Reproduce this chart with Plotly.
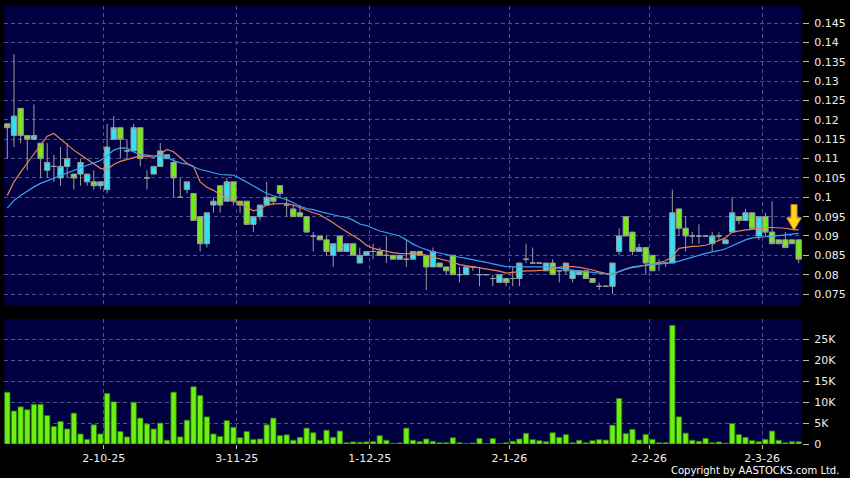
import plotly.graph_objects as go

# ---------------- data ----------------
open_ = [0.119, 0.116, 0.123, 0.116, 0.115, 0.114, 0.107, 0.108, 0.105, 0.108,
         0.106, 0.106, 0.104, 0.104, 0.103, 0.102, 0.115, 0.118, 0.112, 0.112,
         0.118, 0.105, 0.106, 0.108, 0.110, 0.109, 0.100, 0.102, 0.101, 0.095,
         0.088, 0.098, 0.103, 0.099, 0.104, 0.099, 0.099, 0.093, 0.095, 0.098,
         0.100, 0.103, 0.098, 0.097, 0.096, 0.095, 0.090, 0.090, 0.089, 0.085,
         0.090, 0.086, 0.088, 0.083, 0.085, 0.086, 0.086, 0.085, 0.085, 0.084,
         0.084, 0.084, 0.086, 0.085, 0.082, 0.083, 0.082, 0.085, 0.080, 0.080,
         0.082, 0.080, 0.080, 0.079, 0.078, 0.079, 0.079, 0.079, 0.084, 0.083,
         0.083, 0.081, 0.083, 0.081, 0.081, 0.079, 0.080, 0.081, 0.079, 0.077,
         0.077, 0.077, 0.086, 0.095, 0.091, 0.086, 0.087, 0.085, 0.083, 0.083,
         0.083, 0.097, 0.092, 0.090, 0.090, 0.090, 0.088, 0.090, 0.088, 0.091,
         0.095, 0.094, 0.096, 0.090, 0.095, 0.091, 0.089, 0.089, 0.089, 0.089]
high = [0.119, 0.137, 0.123, 0.116, 0.124, 0.114, 0.114, 0.111, 0.113, 0.114,
        0.106, 0.110, 0.106, 0.107, 0.104, 0.119, 0.121, 0.118, 0.115, 0.119,
        0.118, 0.107, 0.108, 0.114, 0.111, 0.110, 0.105, 0.104, 0.101, 0.095,
        0.096, 0.100, 0.103, 0.105, 0.104, 0.099, 0.099, 0.095, 0.098, 0.104,
        0.100, 0.103, 0.100, 0.098, 0.098, 0.095, 0.091, 0.090, 0.090, 0.088,
        0.090, 0.088, 0.088, 0.087, 0.086, 0.088, 0.087, 0.090, 0.085, 0.085,
        0.089, 0.086, 0.086, 0.085, 0.087, 0.083, 0.082, 0.085, 0.082, 0.082,
        0.082, 0.082, 0.080, 0.080, 0.080, 0.079, 0.082, 0.083, 0.088, 0.087,
        0.083, 0.083, 0.084, 0.081, 0.083, 0.081, 0.081, 0.081, 0.079, 0.078,
        0.077, 0.083, 0.092, 0.095, 0.091, 0.088, 0.087, 0.085, 0.084, 0.083,
        0.102, 0.097, 0.095, 0.091, 0.093, 0.090, 0.091, 0.091, 0.089, 0.100,
        0.095, 0.097, 0.096, 0.095, 0.096, 0.099, 0.089, 0.091, 0.089, 0.089]
low = [0.110, 0.113, 0.114, 0.107, 0.115, 0.105, 0.105, 0.104, 0.103, 0.105,
       0.102, 0.103, 0.103, 0.102, 0.102, 0.101, 0.115, 0.110, 0.110, 0.112,
       0.108, 0.102, 0.106, 0.108, 0.110, 0.100, 0.100, 0.101, 0.094, 0.086,
       0.087, 0.096, 0.096, 0.099, 0.098, 0.096, 0.093, 0.091, 0.094, 0.098,
       0.098, 0.100, 0.095, 0.095, 0.095, 0.091, 0.086, 0.089, 0.085, 0.082,
       0.086, 0.086, 0.085, 0.083, 0.085, 0.084, 0.085, 0.083, 0.084, 0.084,
       0.082, 0.084, 0.085, 0.076, 0.082, 0.082, 0.080, 0.080, 0.078, 0.080,
       0.081, 0.077, 0.080, 0.077, 0.078, 0.077, 0.077, 0.077, 0.083, 0.083,
       0.083, 0.081, 0.080, 0.078, 0.080, 0.078, 0.080, 0.079, 0.078, 0.076,
       0.077, 0.075, 0.085, 0.090, 0.085, 0.086, 0.080, 0.081, 0.081, 0.082,
       0.083, 0.090, 0.086, 0.088, 0.088, 0.090, 0.086, 0.089, 0.088, 0.091,
       0.093, 0.094, 0.092, 0.089, 0.090, 0.088, 0.088, 0.087, 0.088, 0.083]
close = [0.118, 0.121, 0.116, 0.115, 0.116, 0.110, 0.109, 0.108, 0.108, 0.110,
         0.105, 0.109, 0.106, 0.103, 0.104, 0.113, 0.118, 0.115, 0.112, 0.118,
         0.110, 0.105, 0.108, 0.112, 0.111, 0.105, 0.100, 0.104, 0.094, 0.088,
         0.096, 0.099, 0.098, 0.104, 0.099, 0.098, 0.093, 0.095, 0.098, 0.100,
         0.099, 0.101, 0.098, 0.095, 0.095, 0.091, 0.090, 0.089, 0.086, 0.088,
         0.086, 0.088, 0.085, 0.085, 0.086, 0.086, 0.085, 0.085, 0.084, 0.085,
         0.084, 0.086, 0.085, 0.082, 0.086, 0.082, 0.081, 0.080, 0.080, 0.082,
         0.082, 0.080, 0.080, 0.079, 0.080, 0.078, 0.079, 0.083, 0.084, 0.083,
         0.083, 0.083, 0.080, 0.081, 0.083, 0.081, 0.081, 0.079, 0.078, 0.077,
         0.077, 0.083, 0.090, 0.090, 0.086, 0.087, 0.083, 0.081, 0.083, 0.083,
         0.096, 0.092, 0.090, 0.090, 0.090, 0.090, 0.090, 0.090, 0.089, 0.096,
         0.094, 0.096, 0.092, 0.095, 0.091, 0.088, 0.088, 0.087, 0.088, 0.084]
volume = [12400, 7900, 8900, 8200, 9500, 9500, 6800, 4200, 5400, 3600,
          7400, 2400, 1100, 4600, 2400, 12100, 10100, 3000, 1700, 10000,
          6200, 4800, 3600, 5000, 900, 12400, 1700, 5700, 13700, 11600,
          6500, 2400, 1800, 5600, 4000, 1500, 3000, 1100, 1200, 4600,
          6200, 2000, 2200, 900, 1600, 3800, 2700, 900, 3300, 1600,
          3100, 300, 500, 400, 500, 550, 2000, 900, 150, 250,
          3800, 900, 550, 1200, 650, 300, 300, 1500, 300, 100,
          250, 1300, 100, 1300, 100, 300, 650, 1200, 2550, 1050,
          800, 550, 2700, 1600, 2250, 300, 900, 300, 800, 1050,
          950, 4500, 10900, 2500, 3500, 950, 2300, 1100, 300, 300,
          28400, 6500, 2600, 900, 650, 1350, 300, 500, 200, 4900,
          2250, 1600, 800, 550, 1100, 3100, 900, 300, 550, 550]
ma_short = [0.1005, 0.1040, 0.1065, 0.1090, 0.1112, 0.1135, 0.1158, 0.1165, 0.1150, 0.1135,
            0.1122, 0.1110, 0.1098, 0.1085, 0.1075, 0.1072, 0.1085, 0.1093, 0.1098, 0.1103,
            0.1107, 0.1106, 0.1103, 0.1112, 0.1124, 0.1118, 0.1104, 0.1088, 0.1080, 0.1040,
            0.1026, 0.1018, 0.1007, 0.0997, 0.0990, 0.0984, 0.0975, 0.0965, 0.0970, 0.0980,
            0.0983, 0.0983, 0.0984, 0.0980, 0.0973, 0.0966, 0.0960, 0.0955, 0.0945, 0.0934,
            0.0922, 0.0912, 0.0901, 0.0890, 0.0876, 0.0868, 0.0864, 0.0860, 0.0857, 0.0855,
            0.0854, 0.0853, 0.0853, 0.0850, 0.0846, 0.0842, 0.0838, 0.0832, 0.0826, 0.0823,
            0.0820, 0.0817, 0.0815, 0.0812, 0.0809, 0.0804, 0.0806, 0.0809, 0.0810, 0.0810,
            0.0811, 0.0812, 0.0815, 0.0819, 0.0821, 0.0821, 0.0819, 0.0816, 0.0812, 0.0807,
            0.0803, 0.0799, 0.0808, 0.0815, 0.0819, 0.0821, 0.0825, 0.0828, 0.0831, 0.0836,
            0.0847, 0.0868, 0.0871, 0.0873, 0.0874, 0.0876, 0.0882, 0.0888, 0.0895, 0.0910,
            0.0913, 0.0916, 0.0917, 0.0919, 0.0922, 0.0922, 0.0921, 0.0920, 0.0917, 0.0915]
ma_long = [0.0972, 0.0992, 0.1005, 0.1017, 0.1027, 0.1036, 0.1043, 0.1049, 0.1055, 0.1062,
           0.1069, 0.1076, 0.1083, 0.1089, 0.1095, 0.1107, 0.1122, 0.1128, 0.1127, 0.1117,
           0.1111, 0.1109, 0.1107, 0.1107, 0.1104, 0.1095, 0.1089, 0.1086, 0.1078, 0.1072,
           0.1068, 0.1063, 0.1059, 0.1058, 0.1057, 0.1049, 0.1039, 0.1030, 0.1019, 0.1010,
           0.1004, 0.0999, 0.0994, 0.0986, 0.0977, 0.0971, 0.0968, 0.0963, 0.0958, 0.0955,
           0.0951, 0.0948, 0.0941, 0.0931, 0.0927, 0.0919, 0.0913, 0.0909, 0.0905, 0.0900,
           0.0890, 0.0879, 0.0871, 0.0865, 0.0859, 0.0856, 0.0852, 0.0848, 0.0845, 0.0842,
           0.0839, 0.0836, 0.0832, 0.0828, 0.0824, 0.0821, 0.0820, 0.0820, 0.0820, 0.0820,
           0.0821, 0.0821, 0.0820, 0.0817, 0.0814, 0.0811, 0.0809, 0.0808, 0.0806, 0.0804,
           0.0802, 0.0802, 0.0808, 0.0815, 0.0820, 0.0822, 0.0824, 0.0826, 0.0827, 0.0829,
           0.0831, 0.0835, 0.0840, 0.0846, 0.0851, 0.0855, 0.0859, 0.0862, 0.0867, 0.0875,
           0.0881, 0.0890, 0.0895, 0.0897, 0.0898, 0.0899, 0.0901, 0.0903, 0.0905, 0.0907]
tick_bar_index = [14, 34, 54, 75, 96, 113]
tick_labels = ["2-10-25", "3-11-25", "1-12-25", "2-1-26", "2-2-26", "2-3-26"]
price_ticks = [0.075, 0.08, 0.085, 0.09, 0.095, 0.1, 0.105, 0.11, 0.115,
               0.12, 0.125, 0.13, 0.135, 0.14, 0.145]
volume_ticks = [0, 5000, 10000, 15000, 20000, 25000]
volume_tick_labels = ["0", "5K", "10K", "15K", "20K", "25K"]

# ---------------- figure ----------------
n = len(close)
xs = list(range(n))
grid_pos = [i + 0.5 for i in tick_bar_index]

FONT = "DejaVu Sans"
GRID = "#4e4e8a"
WICK = "#9c9c9c"

fig = go.Figure()
fig.add_trace(go.Candlestick(
    x=xs, open=open_, high=high, low=low, close=close,
    xaxis="x", yaxis="y",
    increasing=dict(fillcolor="#2fe3f2", line=dict(color=WICK, width=1)),
    decreasing=dict(fillcolor="#74ec14", line=dict(color=WICK, width=1)),
    whiskerwidth=0, showlegend=False, hoverinfo="skip"))
fig.add_trace(go.Scatter(x=xs, y=ma_short, mode="lines", xaxis="x", yaxis="y",
                         line=dict(color="#e8834c", width=1.2), showlegend=False,
                         hoverinfo="skip"))
fig.add_trace(go.Scatter(x=xs, y=ma_long, mode="lines", xaxis="x", yaxis="y",
                         line=dict(color="#3aa2ea", width=1.2), showlegend=False,
                         hoverinfo="skip"))
fig.add_trace(go.Bar(x=xs, y=volume, xaxis="x2", yaxis="y2",
                     marker=dict(color="#6cf014", line=dict(color="#2f7a08", width=0.8)),
                     showlegend=False, hoverinfo="skip"))

# down arrow marker above the last bar, pointing at the short MA end
xc = xs[-1] - 0.7
yt = ma_short[-1]
hh, hs, sw, hw = 0.0066, 0.0032, 0.45, 1.1
arrow_path = (f"M {xc - sw},{yt + hh} L {xc + sw},{yt + hh} L {xc + sw},{yt + hs} "
              f"L {xc + hw},{yt + hs} L {xc},{yt} L {xc - hw},{yt + hs} "
              f"L {xc - sw},{yt + hs} Z")
fig.add_shape(type="path", path=arrow_path, xref="x", yref="y",
              fillcolor="#ffd21e", line=dict(color="#d98c00", width=1))

axis_font = dict(family=FONT, size=11, color="#eeeeee")
common_x = dict(range=[-0.5, n - 0.5], tickmode="array", tickvals=grid_pos,
                showgrid=True, gridcolor=GRID, griddash="4px,3px", gridwidth=1,
                zeroline=False, showline=False, fixedrange=True)

fig.update_layout(
    width=850, height=478,
    paper_bgcolor="#000000", plot_bgcolor="#000040",
    margin=dict(l=4, r=43, t=6, b=34),
    boxgap=0.2, boxgroupgap=0,
    bargap=0.2,
    xaxis=dict(domain=[0, 1], anchor="y", showticklabels=False, ticks="",
               rangeslider=dict(visible=False), **common_x),
    yaxis=dict(domain=[0.3151, 1], anchor="x", side="right",
               range=[0.0719, 0.14947], tickmode="array", tickvals=price_ticks,
               ticktext=[f"{v:g}" for v in price_ticks],
               ticks="outside", ticklen=6, tickcolor="#bbbbbb",
               tickfont=axis_font, ticklabelstandoff=3,
               showgrid=True, gridcolor=GRID, griddash="4px,3px", gridwidth=1,
               zeroline=False, showline=False, fixedrange=True),
    xaxis2=dict(domain=[0, 1], anchor="y2", ticktext=tick_labels,
                ticks="outside", ticklen=4, tickcolor="#bbbbbb",
                tickfont=axis_font, **common_x),
    yaxis2=dict(domain=[0, 0.2854], anchor="x2", side="right",
                range=[0, 29930], tickmode="array", tickvals=volume_ticks,
                ticktext=volume_tick_labels,
                ticks="outside", ticklen=6, tickcolor="#bbbbbb",
                tickfont=axis_font, ticklabelstandoff=3,
                showgrid=True, gridcolor=GRID, griddash="4px,3px", gridwidth=1,
                zeroline=False, showline=False, fixedrange=True),
    annotations=[dict(text="Copyright by AASTOCKS.com Ltd.", xref="paper", yref="paper",
                      x=1.0486, y=-0.0616, xanchor="right", yanchor="middle",
                      showarrow=False, font=dict(family=FONT, size=10, color="#ffffff"))],
    showlegend=False,
)

fig.write_html("out.html", config={"displayModeBar": False},
               post_script="document.body.style.margin='0px';")
